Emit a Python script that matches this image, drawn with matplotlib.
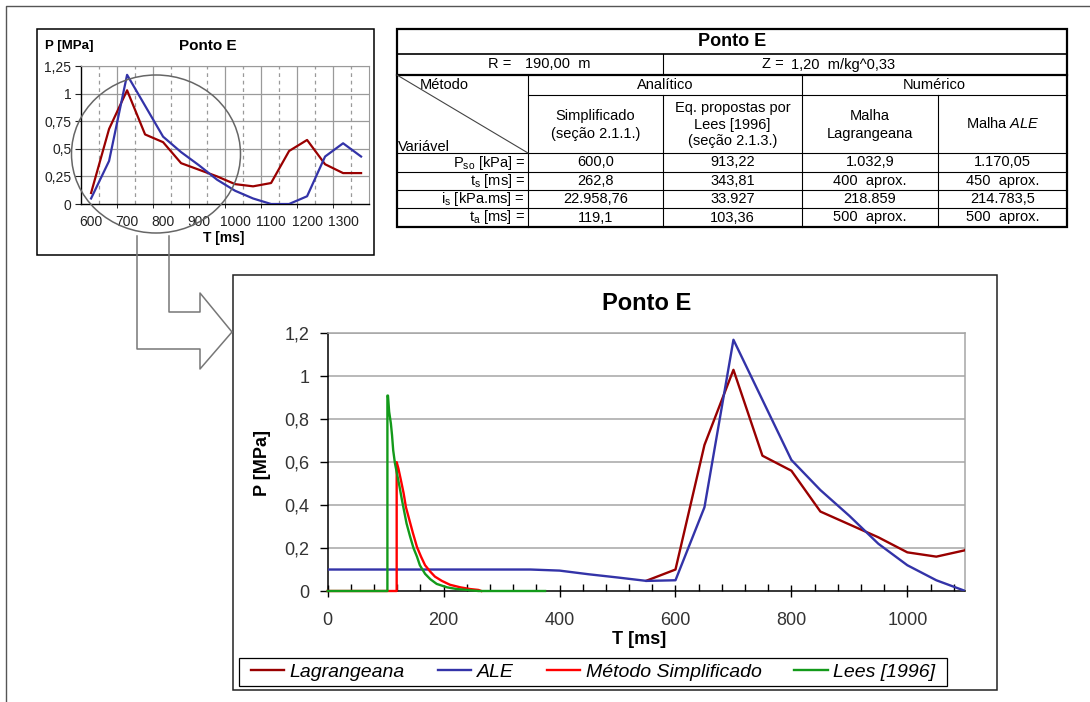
import numpy as np
import matplotlib.pyplot as plt
from matplotlib.patches import Rectangle, Ellipse

# Lagrangeana mesh: T [ms], P [MPa]
lag_t = [550, 600, 650, 700, 750, 800, 850, 900, 950, 1000, 1050, 1100,
         1150, 1200, 1250, 1300, 1350]
lag_p = [0.048, 0.10, 0.68, 1.03, 0.63, 0.56, 0.37, 0.31, 0.25, 0.18, 0.16, 0.19,
         0.48, 0.58, 0.36, 0.28, 0.28]

# ALE mesh
ale_t = [0, 50, 100, 150, 200, 250, 300, 350, 400, 450, 500, 550, 600, 650, 700,
         750, 800, 850, 900, 950, 1000, 1050, 1100, 1150, 1200, 1250, 1300, 1350]
ale_p = [0.10, 0.10, 0.10, 0.10, 0.10, 0.10, 0.10, 0.10, 0.095, 0.078, 0.063, 0.047,
         0.05, 0.39, 1.17, 0.89, 0.61, 0.47, 0.35, 0.22, 0.12, 0.05, 0.0, 0.0,
         0.07, 0.43, 0.55, 0.43]

# Metodo simplificado
simp_t = [0, 119, 119, 122, 126, 131, 135, 141, 147, 154, 161, 168, 177, 185,
          197, 211, 229, 246, 260, 265]
simp_p = [0, 0, 0.60, 0.57, 0.52, 0.455, 0.39, 0.33, 0.27, 0.205, 0.16, 0.12,
          0.09, 0.067, 0.047, 0.029, 0.017, 0.009, 0.005, 0.0]

# Lees [1996]
lees_t = [0, 103, 103, 104, 106, 109, 111, 113, 116, 120, 124, 128, 132, 136,
          142, 148, 154, 159, 168, 177, 188, 206, 223, 240, 260, 375]
lees_p = [0, 0, 0.91, 0.91, 0.835, 0.78, 0.725, 0.655, 0.595, 0.54, 0.485, 0.425,
          0.37, 0.315, 0.255, 0.2, 0.16, 0.12, 0.08, 0.055, 0.033, 0.017, 0.009,
          0.005, 0.0, 0.0]

series_names = ["Lagrangeana", "ALE", "Método Simplificado", "Lees [1996]"]

# axis ticks
main_xticks = [0, 200, 400, 600, 800, 1000]
main_yticks = [0, 0.2, 0.4, 0.6, 0.8, 1.0, 1.2]
main_ylabels = ["0", "0,2", "0,4", "0,6", "0,8", "1", "1,2"]
sm_xticks = [600, 700, 800, 900, 1000, 1100, 1200, 1300]
sm_yticks = [0, 0.25, 0.5, 0.75, 1.0, 1.25]
sm_ylabels = ["0", "0,25", "0,5", "0,75", "1", "1,25"]

# table contents
tab_rows = [r"P$_{so}$ [kPa] =", r"t$_{s}$ [ms] =", r"i$_{s}$ [kPa.ms] =", r"t$_{a}$ [ms] ="]
tab_simpl = ["600,0", "262,8", "22.958,76", "119,1"]
tab_lees = ["913,22", "343,81", "33.927", "103,36"]
tab_lagr = ["1.032,9", "400  aprox.", "218.859", "500  aprox."]
tab_ale = ["1.170,05", "450  aprox.", "214.783,5", "500  aprox."]

plt.rcParams['font.family'] = ['Liberation Sans', 'DejaVu Sans']
plt.rcParams['mathtext.fontset'] = 'custom'
plt.rcParams['mathtext.rm'] = 'Liberation Sans'
plt.rcParams['mathtext.it'] = 'Liberation Sans:italic'
plt.rcParams['mathtext.default'] = 'regular'

c_lag, c_ale, c_simp, c_lees = "#990000", "#3333a8", "#ff0000", "#139a1a"

W, H = 1090, 702
fig = plt.figure(figsize=(W / 100, H / 100), dpi=100)


def px_rect(l, t, r, b):
    return [l / W, 1 - b / H, (r - l) / W, (b - t) / H]


# background layer in pixel coordinates
bg = fig.add_axes([0, 0, 1, 1])
bg.set_xlim(0, W)
bg.set_ylim(H, 0)
bg.axis('off')

bg.plot([6, 6, W], [H, 6, 6], color="#555555", lw=1)
bg.add_patch(Rectangle((37, 29), 337, 226, fill=False, ec="black", lw=1.1))
bg.add_patch(Rectangle((233, 275), 764, 415, fill=False, ec="#222222", lw=1.1))
bg.add_patch(Rectangle((239, 658), 708, 28, fill=False, ec="black", lw=0.9))

# ---- table ----
xs = [397, 528, 663, 802, 938, 1067]
ys = [29, 54, 75, 95, 153, 172, 190, 208, 227]
thin, thick = 0.8, 1.6
bg.add_patch(Rectangle((xs[0], ys[0]), xs[5] - xs[0], ys[8] - ys[0], fill=False, ec="black", lw=thick))
bg.plot([xs[0], xs[5]], [ys[1], ys[1]], color="black", lw=1.2)
bg.plot([xs[0], xs[5]], [ys[2], ys[2]], color="black", lw=thick)
bg.plot([xs[1], xs[5]], [ys[3], ys[3]], color="black", lw=thin)
for yy in ys[4:8]:
    bg.plot([xs[0], xs[5]], [yy, yy], color="black", lw=thin)
bg.plot([xs[2], xs[2]], [ys[1], ys[2]], color="black", lw=thin)
for xx in [xs[1], xs[3]]:
    bg.plot([xx, xx], [ys[2], ys[8]], color="black", lw=thin)
for xx in [xs[2], xs[4]]:
    bg.plot([xx, xx], [ys[3], ys[8]], color="black", lw=thin)
bg.plot([xs[0], xs[1]], [ys[2], ys[4]], color="#444444", lw=thin)

tfs = 10.5
bg.text(732, 41.5, "Ponto E", ha="center", va="center", fontsize=13, fontweight="bold")
bg.text(511, 64.5, "R =", ha="right", va="center", fontsize=tfs)
bg.text(525, 64.5, "190,00  m", ha="left", va="center", fontsize=tfs)
bg.text(784, 64.5, "Z =", ha="right", va="center", fontsize=tfs)
bg.text(791, 64.5, "1,20  m/kg^0,33", ha="left", va="center", fontsize=tfs)
bg.text(444, 85, "Método", ha="center", va="center", fontsize=tfs)
bg.text(398, 147, "Variável", ha="left", va="center", fontsize=tfs)
bg.text(665, 85, "Analítico", ha="center", va="center", fontsize=tfs)
bg.text(934, 85, "Numérico", ha="center", va="center", fontsize=tfs)
bg.text(595.5, 125, "Simplificado\n(seção 2.1.1.)", ha="center", va="center",
        fontsize=tfs, linespacing=1.45)
bg.text(732.5, 124.5, "Eq. propostas por\nLees [1996]\n(seção 2.1.3.)", ha="center",
        va="center", fontsize=tfs, linespacing=1.2)
bg.text(870, 125, "Malha\nLagrangeana", ha="center", va="center", fontsize=tfs,
        linespacing=1.45)
bg.text(1002.5, 124, r"Malha $\mathit{ALE}$", ha="center", va="center", fontsize=tfs)
row_y = [162.5, 181, 199, 217.5]
col_x = [(xs[1] + xs[2]) / 2, (xs[2] + xs[3]) / 2, (xs[3] + xs[4]) / 2, (xs[4] + xs[5]) / 2]
for i, yy in enumerate(row_y):
    bg.text(525, yy, tab_rows[i], ha="right", va="center", fontsize=tfs)
    for cx, col in zip(col_x, [tab_simpl, tab_lees, tab_lagr, tab_ale]):
        bg.text(cx, yy, col[i], ha="center", va="center", fontsize=tfs)

# ---- small chart ----
lag_t_a, lag_p_a = np.array(lag_t), np.array(lag_p)
ale_t_a, ale_p_a = np.array(ale_t), np.array(ale_p)
m1 = lag_t_a >= 600
m2 = ale_t_a >= 600

sm = fig.add_axes(px_rect(81, 66, 369, 204))
sm.plot(lag_t_a[m1], lag_p_a[m1], color=c_lag, lw=1.6, zorder=3)
sm.plot(ale_t_a[m2], ale_p_a[m2], color=c_ale, lw=1.6, zorder=3)
sm.set_xlim(572, 1372)
sm.set_ylim(0, 1.25)
sm.set_yticks(sm_yticks)
sm.set_yticklabels(sm_ylabels)
sm.set_xticks(sm_xticks)
sm.set_xticklabels([str(v) for v in sm_xticks])
sm.set_xticks(np.arange(672, 1372, 100), minor=True)
sm.tick_params(axis='x', which='major', length=0, pad=8, labelsize=10, colors="#222222")
sm.tick_params(axis='x', which='minor', length=3, color="black")
sm.tick_params(axis='y', length=4, pad=3, labelsize=10, colors="#222222")
for gx in np.arange(672, 1372, 100):
    sm.axvline(gx, color="#9a9a9a", lw=0.9, zorder=1)
for gx in np.arange(622, 1372, 100):
    sm.axvline(gx, color="#9a9a9a", lw=0.9, ls=(0, (3, 3)), zorder=1)
for gy in sm_yticks[1:]:
    sm.axhline(gy, color="#9a9a9a", lw=0.9, zorder=1)
for s in ["top", "right"]:
    sm.spines[s].set_color("#9a9a9a")
for s in ["left", "bottom"]:
    sm.spines[s].set_linewidth(1.0)
bg.text(45, 46, "P [MPa]", ha="left", va="center", fontsize=9.5, fontweight="bold")
bg.text(208, 46, "Ponto E", ha="center", va="center", fontsize=11, fontweight="bold")
bg.text(224, 238, "T [ms]", ha="center", va="center", fontsize=10, fontweight="bold")

# ---- main chart ----
ax = fig.add_axes(px_rect(327.7, 333.3, 965.3, 591))
ax.plot(lag_t, lag_p, color=c_lag, lw=1.7, label=series_names[0], zorder=3)
ax.plot(ale_t, ale_p, color=c_ale, lw=1.7, label=series_names[1], zorder=3)
ax.plot(simp_t, simp_p, color=c_simp, lw=1.7, label=series_names[2], zorder=3, clip_on=False)
ax.plot(lees_t, lees_p, color=c_lees, lw=1.7, label=series_names[3], zorder=3, clip_on=False)
ax.set_xlim(0, 1100)
ax.set_ylim(0, 1.2)
ax.set_xticks(main_xticks)
ax.set_xticklabels([str(v) for v in main_xticks])
ax.set_xticks(np.arange(0, 1101, 40), minor=True)
ax.set_yticks(main_yticks)
ax.set_yticklabels(main_ylabels)
ax.tick_params(axis='x', which='major', direction='inout', length=8, width=1,
               pad=11, labelsize=13, labelcolor="#333333")
ax.tick_params(axis='x', which='minor', direction='in', length=5, width=1)
ax.tick_params(axis='y', direction='out', length=6, width=1, pad=7,
               labelsize=13, labelcolor="#333333")
for gy in main_yticks[1:]:
    ax.axhline(gy, color="#a6a6a6", lw=1.1, zorder=1)
for s in ["top", "right"]:
    ax.spines[s].set_color("#a6a6a6")
    ax.spines[s].set_linewidth(1.1)
for s in ["left", "bottom"]:
    ax.spines[s].set_linewidth(1.1)
ax.set_title("Ponto E", fontsize=17, fontweight="bold", pad=17)
ax.set_xlabel("T [ms]", fontsize=13, fontweight="bold")
ax.xaxis.set_label_coords(0.489, -0.19)
ax.xaxis.label.set_va("center")
ax.set_ylabel("P [MPa]", fontsize=13, fontweight="bold")
ax.yaxis.set_label_coords(-0.1015, 0.497)
ax.yaxis.label.set_va("center")

handles, labels = ax.get_legend_handles_labels()
fig.legend(handles, labels, loc="center", bbox_to_anchor=(593 / W, 1 - 672 / H), ncol=4,
           frameon=False, prop={"family": "Liberation Sans", "style": "italic", "size": 14},
           handlelength=1.7, handletextpad=0.3, columnspacing=1.7, borderpad=0.2)

# ---- overlay: zoom circle and bent arrow ----
ov = fig.add_axes([0, 0, 1, 1])
ov.set_xlim(0, W)
ov.set_ylim(H, 0)
ov.axis('off')
ov.add_patch(Ellipse((156, 154), 169, 158, fill=False, ec="#666666", lw=1.1))
ov.plot([137, 137, 200, 200, 232, 200, 200, 169, 169],
        [236, 349, 349, 369, 332, 293, 312, 312, 236], color="#777777", lw=1.1)

fig.savefig("out.png", dpi=100)
